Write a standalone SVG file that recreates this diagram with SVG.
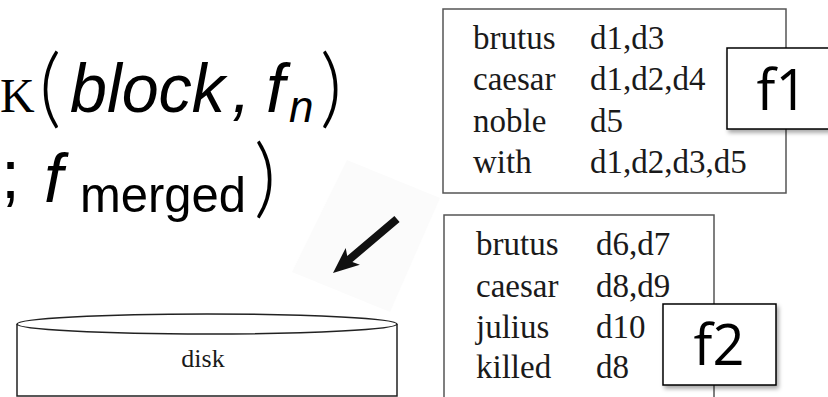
<svg xmlns="http://www.w3.org/2000/svg" width="828" height="397" viewBox="0 0 828 397">
<style>
.math{font-family:"Liberation Sans",Arial,sans-serif;fill:#000}
.it{font-style:italic}
.kk{font-family:"Liberation Serif","Times New Roman",serif;font-size:48px;fill:#000}
.par{font-family:"Lato","Liberation Sans",sans-serif;font-weight:300;font-size:86px;fill:#000}
.tbl{font-family:"Liberation Serif","Times New Roman",serif;font-size:33px;fill:#1a1a1a}
.box{fill:#fff;stroke:#555;stroke-width:1.5}
.lab{fill:#fff;stroke:#000;stroke-width:1.5}
.labt{font-family:"Open Sans","Liberation Sans",sans-serif;font-size:56px;fill:#000;text-anchor:middle}
.disk{fill:#fff;stroke:#222;stroke-width:1.5}
</style>
<defs>
<filter id="sh" x="-10%" y="-10%" width="130%" height="130%">
<feDropShadow dx="2" dy="3" stdDeviation="2" flood-color="#000" flood-opacity="0.35"/>
</filter>
</defs>
<rect width="828" height="397" fill="#fff"/>

<g id="formula">
<text class="kk" x="0" y="112">K</text>
<text class="par" x="39" y="117">(</text>
<text class="math it" font-size="68" x="70" y="112" textLength="155" lengthAdjust="spacingAndGlyphs">block</text>
<text class="math it" font-size="68" x="232" y="112">,</text>
<text class="math it" font-size="68" x="266" y="112">f</text>
<text class="math it" font-size="44" x="289" y="122">n</text>
<text class="par" x="320" y="117">)</text>
<text class="math" font-size="68" x="1" y="198">;</text>
<text class="math it" font-size="68" x="44" y="202">f</text>
<text class="math" font-size="50" x="80" y="212" textLength="166" lengthAdjust="spacingAndGlyphs">merged</text>
<text class="par" x="254" y="207">)</text>
</g>

<g id="connectors">
<polygon points="347,160 440,198 390,312 292,272" fill="#fbfbfb"/>
<polygon points="394.4,216.0 347.2,255.9 345.7,247.9 333,273 359.9,264.7 352.4,262.0 399.6,222.0" fill="#111"/>
</g>

<g id="f1">
<rect class="box" x="443" y="9" width="343" height="184"/>
<text class="tbl" x="473" y="49">brutus</text><text class="tbl" x="590" y="49">d1,d3</text>
<text class="tbl" x="473" y="90">caesar</text><text class="tbl" x="590" y="90">d1,d2,d4</text>
<text class="tbl" x="473" y="132">noble</text><text class="tbl" x="590" y="132">d5</text>
<text class="tbl" x="473" y="173">with</text><text class="tbl" x="590" y="173">d1,d2,d3,d5</text>
</g>

<g id="f1-label">
<rect class="lab" x="727" y="48" width="104" height="81" filter="url(#sh)"/>
<text class="labt" x="782" y="110">f1</text>
</g>

<g id="f2">
<rect class="box" x="444" y="215" width="270" height="200"/>
<text class="tbl" x="476" y="255">brutus</text><text class="tbl" x="596" y="255">d6,d7</text>
<text class="tbl" x="476" y="297">caesar</text><text class="tbl" x="596" y="297">d8,d9</text>
<text class="tbl" x="476" y="338">julius</text><text class="tbl" x="596" y="338">d10</text>
<text class="tbl" x="476" y="378">killed</text><text class="tbl" x="596" y="378">d8</text>
</g>

<g id="f2-label">
<rect class="lab" x="663" y="304" width="113" height="81" filter="url(#sh)"/>
<text class="labt" x="719" y="365">f2</text>
</g>

<g id="disk">
<path class="disk" d="M17,324 L17,396 L397,396 L397,324"/>
<ellipse class="disk" cx="207" cy="324" rx="190" ry="10"/>
<text x="203" y="367" font-family="Liberation Serif,serif" font-size="26" fill="#1a1a1a" text-anchor="middle">disk</text>
</g>
</svg>
